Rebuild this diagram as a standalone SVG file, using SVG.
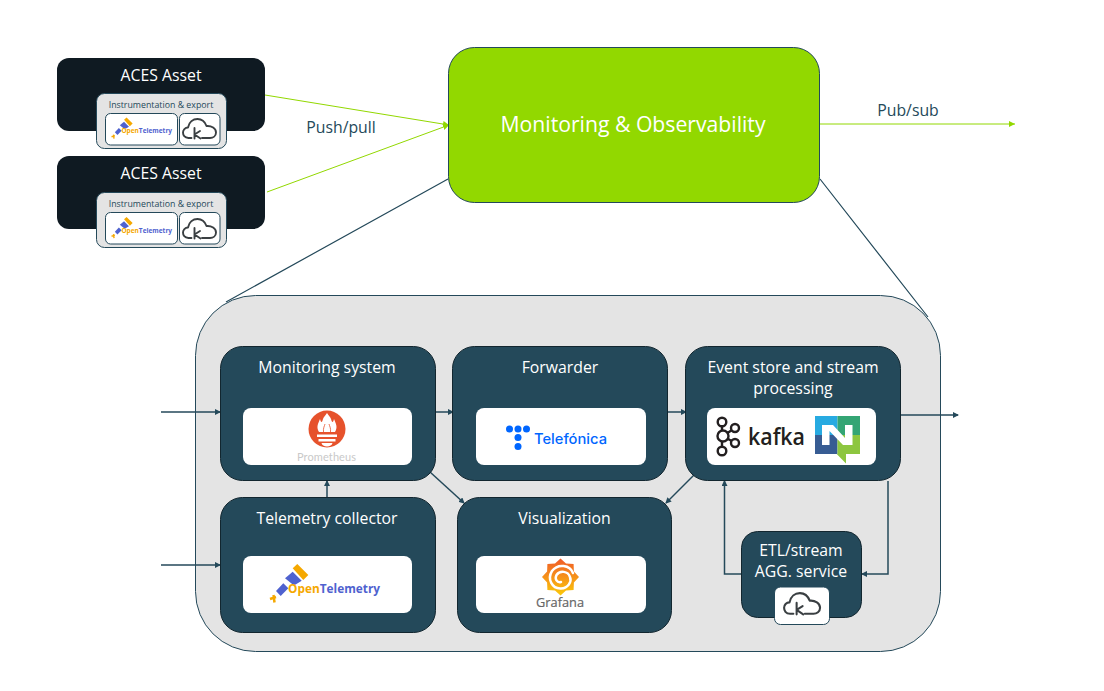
<svg xmlns="http://www.w3.org/2000/svg" width="1104" height="691" viewBox="0 0 1104 691">
<style>
text{font-family:"Open Sans","Noto Sans","Liberation Sans",sans-serif;text-anchor:middle}
.t{font-size:15.800px;fill:#fff}
.d{font-size:15.800px;fill:#24495a}
.s{font-size:8.800px;fill:#24495a}
.n{fill:#24495a;stroke:#12262f;stroke-width:1}
.a{fill:#0f1a22}
.w{fill:#fff}
.p{fill:#e4e4e4;stroke:#24495a;stroke-width:1}
.l{fill:none;stroke:#24495a;stroke-width:1.500}
.g{fill:none;stroke:#92d800;stroke-width:1}
.c{fill:none;stroke:#3a3f42;stroke-width:1.900;stroke-linecap:round;stroke-linejoin:round}
.b{fill:#fff;stroke:#24495a;stroke-width:1}
</style>
<defs>
<linearGradient id="gf" x1="0" y1="0" x2="0" y2="1"><stop offset="0" stop-color="#f05a28"/><stop offset="1" stop-color="#fbca0a"/></linearGradient>
<marker id="ad" markerWidth="6" markerHeight="6" refX="5" refY="3" orient="auto" markerUnits="userSpaceOnUse"><path d="M0 0L6 3L0 6Z" fill="#24495a"/></marker>
<marker id="ag" markerWidth="7" markerHeight="6" refX="6" refY="3" orient="auto" markerUnits="userSpaceOnUse"><path d="M0 0L6 3L0 6Z" fill="#92d800"/></marker>
<g id="otel">
<path d="M23.700 4.300L28.300 0L39.300 11L34.300 16Z" fill="#f5a800"/>
<path d="M16 14.300L23.700 7.700L32.700 16.700L25 21.500Z" fill="#4f62cf"/>
<path d="M7 27L14.300 19.300L19.300 24.300L11.700 32Z" fill="#4f62cf"/>
<path d="M1 35L7 33M4.500 31L5.500 38.500" fill="none" stroke="#f5a800" stroke-width="2.500"/>
<text x="19" y="28.700" font-size="11.500px" font-weight="700" style="text-anchor:start" textLength="92" lengthAdjust="spacingAndGlyphs"><tspan fill="#f5a800">Open</tspan><tspan fill="#4f62cf">Telemetry</tspan></text>
</g>
<g id="kc">
<path class="c" d="M9.500 20H6.500C2.500 20 1 17 1 14.500C1 12 3 9.500 6 9.500C7 4 11 1 15.500 1C20 1 23 4 24.500 8C29.500 7.500 34 10.500 34 14.500C34 18 31 20 28 20H20"/>
<path class="c" d="M12.500 10V20.500M18 13L12.500 16.500L18.500 20.500"/>
</g>
</defs>

<g id="connectors-top">
<path class="g" marker-end="url(#ag)" d="M265 95L449 125"/>
<path class="g" marker-end="url(#ag)" d="M267 192L449 125"/>
<path class="g" marker-end="url(#ag)" d="M820 124H1015"/>
<path d="M448 179L226 302M820 179L928 317" fill="none" stroke="#24495a" stroke-width="1.200"/>
</g>

<g id="asset-1">
<rect class="a" x="57" y="58" width="208" height="73" rx="12"/>
<text class="t" x="161" y="81">ACES Asset</text>
<rect class="p" x="96.500" y="93.500" width="130" height="55" rx="8"/>
<text class="s" x="161" y="108">Instrumentation &amp; export</text>
<rect class="b" x="105.500" y="113.500" width="72" height="31.500" rx="5"/>
<rect class="b" x="179.500" y="113.500" width="40.500" height="31.500" rx="5"/>
<use href="#otel" transform="translate(111 117.500) scale(.55)"/>
<use href="#kc" transform="translate(182 118)"/>
</g>
<g id="asset-2">
<rect class="a" x="57" y="156" width="208" height="73" rx="12"/>
<text class="t" x="161" y="179">ACES Asset</text>
<rect class="p" x="96.500" y="192.500" width="130" height="55" rx="8"/>
<text class="s" x="161" y="207">Instrumentation &amp; export</text>
<rect class="b" x="105.500" y="212.500" width="72" height="31.500" rx="5"/>
<rect class="b" x="179.500" y="212.500" width="40.500" height="31.500" rx="5"/>
<use href="#otel" transform="translate(111 217) scale(.55)"/>
<use href="#kc" transform="translate(182 218)"/>
</g>
<g id="monitoring-observability">
<rect x="448.500" y="47.500" width="371" height="155" rx="26" fill="#92d800" stroke="#24495a"/>
<text x="633" y="132" font-size="21.200px" fill="#fff">Monitoring &amp; Observability</text>
</g>
<text class="d" x="341" y="133">Push/pull</text>
<text class="d" x="908" y="116">Pub/sub</text>

<g id="platform"><rect class="p" x="195.500" y="295.500" width="745" height="356" rx="60"/></g>

<g id="connectors">
<path class="l" marker-end="url(#ad)" d="M161 412H220"/>
<path class="l" marker-end="url(#ad)" d="M161 565H220"/>
<path class="l" marker-end="url(#ad)" d="M436 412H453"/>
<path class="l" marker-end="url(#ad)" d="M668 412H686"/>
<path class="l" marker-end="url(#ad)" d="M901 415H958"/>
<path class="l" marker-end="url(#ad)" d="M327 497V481"/>
<path class="l" marker-end="url(#ad)" d="M430 472L464 503"/>
<path class="l" marker-end="url(#ad)" d="M694 475L666 503"/>
<path class="l" marker-end="url(#ad)" d="M741 574H724.500V481"/>
<path class="l" marker-end="url(#ad)" d="M888 481V574H862"/>
</g>

<g id="monitoring-system">
<rect class="n" x="220.500" y="346.500" width="215" height="134" rx="22"/>
<text class="t" x="327" y="373">Monitoring system</text>
<rect class="w" x="243" y="408" width="169" height="57" rx="8"/>
<circle cx="327" cy="429" r="18.500" fill="#e6522c"/>
<path d="M319 432C316 427 318 424 320 419C321 423 322 423 323 419C323.500 417 325 416 327 413C329 416 330.500 417 331 419C332 423 333 423 334 419C336 424 338 427 335 432Z" fill="#fff"/>
<path d="M323.500 432C323 428 324.500 426 325 424M330.500 432C331 428 329.500 426 329 424" fill="none" stroke="#e6522c" stroke-width=".8"/>
<path d="M317 434.500H337V437H317ZM318.500 439H335.500V441.500H318.500ZM321.500 443H332.500C332 447.500 322 447.500 321.500 443Z" fill="#fff"/>
<text x="326.500" y="461" font-size="11px" fill="#c9c9c9" textLength="59" lengthAdjust="spacing" style="font-family:Lato,'Open Sans',sans-serif">Prometheus</text>
</g>
<g id="forwarder">
<rect class="n" x="452.500" y="346.500" width="215" height="134" rx="22"/>
<text class="t" x="560" y="373">Forwarder</text>
<rect class="w" x="476" y="408" width="170" height="57" rx="8"/>
<g fill="#0066ff"><circle cx="509.500" cy="429" r="3.500"/><circle cx="518" cy="429" r="3.500"/><circle cx="526.500" cy="429" r="3.500"/><circle cx="518" cy="437.500" r="3.500"/><circle cx="518" cy="446.500" r="3.500"/></g>
<text x="570.500" y="444" font-size="14.500px" font-weight="500" fill="#0066ff" textLength="73" lengthAdjust="spacingAndGlyphs" style="font-family:Inter,'Open Sans',sans-serif">Telefónica</text>
</g>
<g id="event-store">
<rect class="n" x="685.500" y="346.500" width="215" height="134" rx="22"/>
<text class="t" x="793" y="373">Event store and stream</text>
<text class="t" x="793" y="394">processing</text>
<rect class="w" x="707" y="408" width="169" height="57" rx="8"/>
<g fill="#fff" stroke="#231f20" stroke-width="2.400">
<path d="M722 422V451M723 436L735 428M723 436L735 443" fill="none"/>
<circle cx="722" cy="422" r="4.300"/><circle cx="722" cy="451" r="4.300"/><circle cx="723" cy="436" r="5.500"/><circle cx="735" cy="428" r="4"/><circle cx="735" cy="443" r="4"/>
</g>
<text x="776.500" y="445" font-size="24px" font-weight="600" fill="#231f20" textLength="57" lengthAdjust="spacingAndGlyphs">kafka</text>
<path d="M815 416H837.500V435H815Z" fill="#27aae1"/>
<path d="M837.500 416H860V435H837.500Z" fill="#34a574"/>
<path d="M815 435H837.500V454H815Z" fill="#375c93"/>
<path d="M837.500 435H860V454H846V463.500L836.700 454H837.500Z" fill="#8dc63f"/>
<path d="M822 445V425H833L845 438V425H852.500V445H843L829.500 431V445Z" fill="#fff"/>
</g>
<g id="telemetry-collector">
<rect class="n" x="220.500" y="497.500" width="215" height="135" rx="22"/>
<text class="t" x="327" y="524">Telemetry collector</text>
<rect class="w" x="243" y="556" width="169" height="57" rx="8"/>
<use href="#otel" transform="translate(269 564)"/>
</g>
<g id="visualization">
<rect class="n" x="457.500" y="497.500" width="214" height="135" rx="22"/>
<text class="t" x="564.500" y="524">Visualization</text>
<rect class="w" x="476" y="556" width="170" height="57" rx="8"/>
<path d="M560.500 558.500L566 563.600L573.600 563.900L573.900 571.500L579 577L573.900 582.500L573.600 590.100L566 590.400L560.500 595.500L555 590.400L547.400 590.100L547.100 582.500L542 577L547.100 571.500L547.400 563.900L555 563.600Z" fill="url(#gf)"/>
<path d="M573 573C570 565 558 563 552 571C547 579 552 589 561 588.500C568 588 572 582 570 577C568 571 560 570 556.500 575C554.500 579 557 583 561 582" fill="none" stroke="#fff" stroke-width="2.500" stroke-linecap="round"/>
<text x="560" y="606.700" font-size="13.500px" fill="#666" stroke="#666" stroke-width=".2" textLength="48" lengthAdjust="spacingAndGlyphs">Grafana</text>
</g>
<g id="etl-service">
<rect class="n" x="741.500" y="531.500" width="120" height="86" rx="16"/>
<text class="t" x="801" y="556">ETL/stream</text>
<text class="t" x="801" y="577">AGG. service</text>
<rect class="b" x="774.500" y="587" width="55" height="37.500" rx="6"/>
<use href="#kc" transform="translate(783 592) scale(1.090)"/>
</g>
</svg>
